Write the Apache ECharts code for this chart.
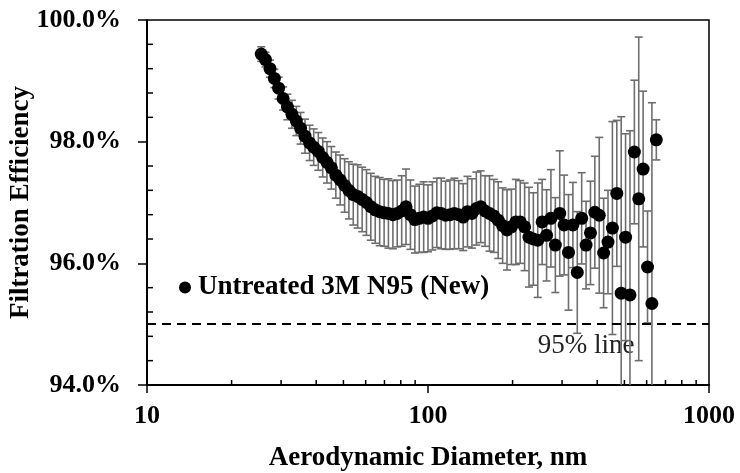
<!DOCTYPE html>
<html>
<head>
<meta charset="utf-8">
<script src="https://cdn.jsdelivr.net/npm/echarts@6/dist/echarts.min.js"></script>
<style>
html,body{margin:0;padding:0;background:#fff;}
#chart{width:740px;height:473px;}
</style>
</head>
<body>
<div id="chart"></div>
<script>
// ---- data ----
const SERIES_NAME = 'Untreated 3M N95 (New)';
const diameters = [
  25.5,26.4,27.4,28.4,29.4,30.5,31.6,32.8,34.0,35.2,
  36.5,37.9,39.2,40.7,42.2,43.7,45.3,47.0,48.7,50.5,
  52.3,54.2,56.2,58.3,60.4,62.6,64.9,67.3,69.8,72.3,
  75.0,77.7,80.6,83.5,86.6,89.8,93.1,96.5,100.0,103.7,
  107.5,111.4,115.5,119.7,124.1,128.6,133.4,138.2,143.3,148.6,
  154.0,159.6,165.5,171.5,177.8,184.3,191.1,198.1,205.4,212.9,
  220.7,228.8,237.1,245.8,254.8,264.2,273.8,283.9,294.3,305.1,
  316.2,327.8,339.8,352.3,365.2,378.6,392.4,406.8,421.7,437.1,
  453.2,469.8,487.0,504.8,523.3,542.5,562.3,582.9,604.3,626.4,
  649.4
];
const efficiency = [
  99.44,99.35,99.20,99.04,98.88,98.71,98.57,98.45,98.34,98.22,
  98.09,97.98,97.91,97.84,97.74,97.66,97.57,97.45,97.37,97.28,
  97.20,97.13,97.10,97.05,97.00,96.93,96.88,96.85,96.83,96.82,
  96.80,96.82,96.86,96.93,96.80,96.72,96.74,96.76,96.74,96.78,
  96.83,96.82,96.79,96.80,96.82,96.80,96.76,96.85,96.82,96.90,
  96.93,96.86,96.82,96.78,96.71,96.62,96.55,96.60,96.68,96.68,
  96.60,96.43,96.40,96.38,96.68,96.46,96.74,96.30,96.82,96.63,
  96.18,96.63,95.85,96.74,96.30,96.50,96.84,96.79,96.17,96.35,
  96.58,97.15,95.51,96.43,95.48,97.83,97.06,97.55,95.94,95.34,
  98.03
];
const errorHalf = [
  0.12,0.12,0.14,0.15,0.18,0.19,0.21,0.23,0.24,0.26,
  0.28,0.29,0.30,0.31,0.32,0.34,0.35,0.38,0.41,0.44,
  0.47,0.50,0.52,0.53,0.54,0.55,0.55,0.56,0.55,0.57,
  0.56,0.55,0.58,0.62,0.57,0.55,0.56,0.58,0.55,0.56,
  0.57,0.58,0.56,0.57,0.58,0.56,0.55,0.58,0.57,0.60,
  0.59,0.58,0.62,0.60,0.63,0.62,0.66,0.62,0.70,0.68,
  0.72,0.82,0.76,0.94,0.70,0.75,0.80,0.78,1.03,0.82,
  0.95,0.70,1.00,0.75,0.72,0.85,0.92,1.28,0.90,0.85,
  1.75,1.20,2.90,1.70,2.70,1.18,2.66,1.28,0.92,3.30,
  0.33
];
const xMin = 10, xMax = 1000;
const xTickLabels = {10: '10', 100: '100', 1000: '1000'};
const yMin = 94, yMax = 100, yInterval = 2;
const xMinorTicks = [20,30,40,50,60,70,80,90,200,300,400,500,600,700,800,900];
const yMinorTicks = [94.4,94.8,95.2,95.6,96.4,96.8,97.2,97.6,98.4,98.8,99.2,99.6];
const referenceLevel = 95;
const referenceLabel = '95% line';
const referenceLabelAt = 365; // nm, where the label sits along the line

const FONT = '"Liberation Serif","Times New Roman",serif';

const points = diameters.map((d, i) => [d, efficiency[i]]);
const bars = diameters.map((d, i) => [d, efficiency[i], errorHalf[i]]);

const chart = echarts.init(document.getElementById('chart'), null, {renderer: 'canvas'});

const option = {
  animation: false,
  backgroundColor: '#fff',
  grid: {left: 147, right: 31, top: 20, bottom: 88, containLabel: false, outerBoundsMode: 'none',
    show: true, borderColor: '#000', borderWidth: 1.5, backgroundColor: 'transparent'},
  legend: {
    data: [{name: SERIES_NAME, icon: 'circle'}],
    left: 174, top: 269,
    itemWidth: 12, itemHeight: 12, itemGap: 10,
    textStyle: {fontFamily: FONT, fontWeight: 'bold', fontSize: 27, color: '#000', padding: [0,0,0,2]},
    selectedMode: false
  },
  xAxis: {
    type: 'log', logBase: 10, min: xMin, max: xMax,
    name: 'Aerodynamic Diameter, nm', nameLocation: 'middle', nameGap: 60, nameMoveOverlap: false,
    nameTextStyle: {fontFamily: FONT, fontWeight: 'bold', fontSize: 27, color: '#000'},
    axisLine: {show: true, lineStyle: {color: '#000', width: 2}},
    axisTick: {show: true, inside: false, length: 8, lineStyle: {color: '#000', width: 1.5}},
    axisLabel: {fontFamily: FONT, fontWeight: 'bold', fontSize: 26, color: '#000', margin: 18,
      formatter: v => xTickLabels[Math.round(v)] || String(Math.round(v))},
    splitLine: {show: false},
    minorTick: {show: false}
  },
  yAxis: {
    type: 'value', min: yMin, max: yMax, interval: yInterval,
    name: 'Filtration Efficiency', nameLocation: 'middle', nameGap: 112, nameMoveOverlap: false,
    nameTextStyle: {fontFamily: FONT, fontWeight: 'bold', fontSize: 27, color: '#000'},
    axisLine: {show: true, lineStyle: {color: '#000', width: 2}},
    axisTick: {show: true, inside: false, length: 9, lineStyle: {color: '#000', width: 1.5}},
    axisLabel: {fontFamily: FONT, fontWeight: 'bold', fontSize: 26, color: '#000', margin: 26,
      formatter: v => v.toFixed(1) + '%'},
    splitLine: {show: false}
  },
  series: [
    {
      type: 'custom',
      name: 'xMinor',
      silent: true,
      clip: false,
      data: xMinorTicks.map(v => [v, yMin]),
      encode: {x: 0, y: 1},
      renderItem: (params, api) => {
        const p = api.coord([api.value(0), api.value(1)]);
        return {type: 'line', shape: {x1: p[0], y1: p[1], x2: p[0], y2: p[1] - 5},
          style: {stroke: '#000', lineWidth: 1.5}};
      },
      z: 1
    },
    {
      type: 'custom',
      name: 'yMinor',
      silent: true,
      clip: false,
      data: yMinorTicks.map(v => [xMin, v]),
      encode: {x: 0, y: 1},
      renderItem: (params, api) => {
        const p = api.coord([api.value(0), api.value(1)]);
        return {type: 'line', shape: {x1: p[0], y1: p[1], x2: p[0] + 6, y2: p[1]},
          style: {stroke: '#000', lineWidth: 1.5}};
      },
      z: 1
    },
    {
      type: 'custom',
      name: 'errors',
      silent: true,
      clip: true,
      data: bars,
      encode: {x: 0, y: 1},
      renderItem: (params, api) => {
        const x = api.value(0), v = api.value(1), e = api.value(2);
        const hiRaw = v + e, loRaw = v - e;
        const hi = Math.min(hiRaw, yMax), lo = Math.max(loRaw, yMin);
        const pt = api.coord([x, hi]);
        const pb = api.coord([x, lo]);
        const style = {stroke: '#6e6e6e', lineWidth: 1.6};
        const cw = 4;
        const children = [{type: 'line', shape: {x1: pt[0], y1: pt[1], x2: pb[0], y2: pb[1]}, style}];
        if (hiRaw <= yMax) children.push({type: 'line', shape: {x1: pt[0] - cw, y1: pt[1], x2: pt[0] + cw, y2: pt[1]}, style});
        if (loRaw >= yMin) children.push({type: 'line', shape: {x1: pb[0] - cw, y1: pb[1], x2: pb[0] + cw, y2: pb[1]}, style});
        return {type: 'group', children};
      },
      z: 2
    },
    {
      type: 'scatter',
      name: SERIES_NAME,
      data: points,
      symbol: 'circle',
      symbolSize: 13,
      itemStyle: {color: '#000', opacity: 1},
      z: 3,
      markLine: {
        silent: true,
        symbol: ['none', 'none'],
        label: {show: false},
        lineStyle: {color: '#000', type: [9, 6], width: 2},
        data: [{yAxis: referenceLevel}]
      }
    }
  ]
};
chart.setOption(option);

const lp = chart.convertToPixel({xAxisIndex: 0, yAxisIndex: 0}, [referenceLabelAt, referenceLevel]);
chart.setOption({
  graphic: [{
    type: 'text', x: lp[0], y: lp[1] + 22, silent: true,
    style: {text: referenceLabel, font: '27px ' + FONT, fill: '#222', align: 'center', verticalAlign: 'middle'}
  }]
});
</script>
</body>
</html>
